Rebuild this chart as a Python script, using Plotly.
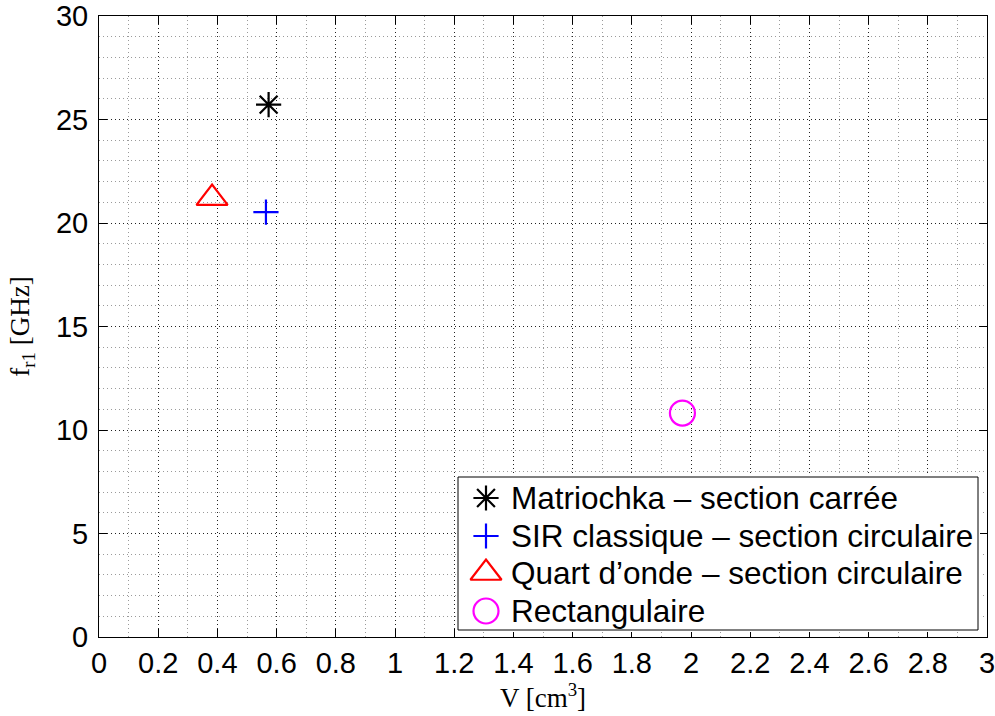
import plotly.graph_objects as go

# Resonator volume vs. first resonance frequency
names = [
    "Matriochka – section carrée",
    "SIR classique – section circulaire",
    "Quart d’onde – section circulaire",
    "Rectangulaire",
]
volume_cm3 = [0.573, 0.564, 0.382, 1.971]
freq_ghz = [25.72, 20.53, 21.2, 10.82]

symbols = ["asterisk-open", "cross-thin-open", "triangle-up-open", "circle-open"]
colors = ["#000000", "#0000ff", "#ff0000", "#ff00ff"]
sizes = [21, 18, 27, 25]

x_ticks = [round(0.2 * i, 1) for i in range(16)]
x_ticklabels = ["0", "0.2", "0.4", "0.6", "0.8", "1", "1.2", "1.4", "1.6", "1.8",
                "2", "2.2", "2.4", "2.6", "2.8", "3"]
y_ticks = [0, 5, 10, 15, 20, 25, 30]

W, H = 995, 716
ML, MR, MT, MB = 99, 8, 16, 79
PW, PH = W - ML - MR, H - MT - MB

fig = go.Figure()
for name, x, y, sym, col, sz in zip(names, volume_cm3, freq_ghz, symbols, colors, sizes):
    fig.add_trace(go.Scatter(
        x=[x], y=[y], mode="markers", name=name, showlegend=False,
        marker=dict(symbol=sym, size=sz, color=col,
                    line=dict(color=col, width=2.2)),
    ))

axis_common = dict(
    showline=True, linecolor="black", linewidth=1, mirror="ticks",
    ticks="inside", ticklen=8, tickcolor="black", tickwidth=1,
    showgrid=True, gridcolor="#222222", gridwidth=1, griddash="1px,3px",
    zeroline=False, automargin=False, ticklabeloverflow="allow",
    tickfont=dict(family="Liberation Sans, Arial", size=29, color="black"),
)
minor_grid = dict(showgrid=True, gridcolor="#9a9a9a", griddash="1px,3px",
                  gridwidth=1, ticks="")
title_font = dict(family="Liberation Serif, Times New Roman", size=27, color="black")

fig.update_xaxes(
    range=[0, 3], tickvals=x_ticks, ticktext=x_ticklabels,
    minor=dict(dtick=0.1, **minor_grid),
    title=dict(text="V [cm<sup>3</sup>]", standoff=4, font=title_font),
    **axis_common,
)
fig.update_yaxes(
    range=[0, 30], tickvals=y_ticks,
    minor=dict(dtick=1, **minor_grid),
    ticklabelstandoff=4,
    title=dict(text="f<sub>r1</sub> [GHz]", standoff=18, font=title_font),
    **axis_common,
)

# Legend box drawn on its own pixel-scaled subplot in the lower right corner
box_left, box_right, box_top, box_bottom = 458, 978, 477, 630
pad = 2
leg_x_rng = [box_left - pad, box_right + pad]
leg_y_rng = [box_bottom + pad, box_top - pad]
row_y = [498, 536, 573, 611]
sym_x = 486
text_x = 509

fig.add_trace(go.Scatter(
    x=[box_left, box_right, box_right, box_left, box_left],
    y=[box_top, box_top, box_bottom, box_bottom, box_top],
    mode="lines", fill="toself", fillcolor="white",
    line=dict(color="black", width=1), showlegend=False, hoverinfo="skip",
    xaxis="x2", yaxis="y2",
))
for name, sym, col, sz, ry in zip(names, symbols, colors, sizes, row_y):
    fig.add_trace(go.Scatter(
        x=[sym_x], y=[ry], mode="markers", showlegend=False, hoverinfo="skip",
        marker=dict(symbol=sym, size=sz, color=col, line=dict(color=col, width=2.2)),
        xaxis="x2", yaxis="y2",
    ))
    fig.add_annotation(
        x=text_x, y=ry, xref="x2", yref="y2", text=name, showarrow=False,
        xanchor="left", yanchor="middle",
        font=dict(family="Liberation Sans, Arial", size=31.5, color="black"),
    )

fig.update_layout(
    width=W, height=H,
    margin=dict(l=ML, r=MR, t=MT, b=MB),
    paper_bgcolor="white", plot_bgcolor="white",
    showlegend=False,
    xaxis2=dict(domain=[(leg_x_rng[0] - ML) / PW, (leg_x_rng[1] - ML) / PW],
                range=leg_x_rng, visible=False, anchor="y2", fixedrange=True),
    yaxis2=dict(domain=[(H - MB - leg_y_rng[0]) / PH, (H - MB - leg_y_rng[1]) / PH],
                range=leg_y_rng, visible=False, anchor="x2", fixedrange=True),
)

fig.write_html("out.html")
